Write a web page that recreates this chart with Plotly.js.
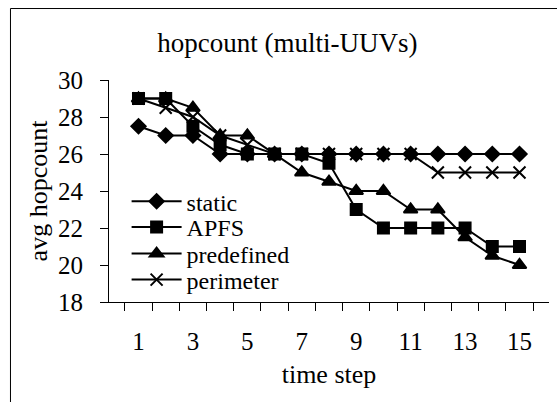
<!DOCTYPE html>
<html>
<head>
<meta charset="utf-8">
<script src="https://cdn.plot.ly/plotly-3.0.1.min.js"></script>
<style>html,body{margin:0;padding:0;background:#fff;}#chart{width:557px;height:402px;}</style>
</head>
<body>
<div id="chart"></div>
<script>
const timeSteps = ['1','2','3','4','5','6','7','8','9','10','11','12','13','14','15'];
const tickLabels = ['1','','3','','5','','7','','9','','11','','13','','15'];
const staticVals = [27.5,27,27,26,26,26,26,26,26,26,26,26,26,26,26];
const apfsVals = [29,29,27.5,26.5,26,26,26,25.5,23,22,22,22,22,21,21];
const predefinedVals = [29,29,28.5,27,27,26,25,24.5,24,24,23,23,21.5,20.5,20];
const perimeterVals = [29,28.5,28,27,26.5,26,26,26,26,26,26,25,25,25,25];

const FONT = 'Liberation Serif';
function tr(name, y, symbol, size, leg) {
  return {
    x: timeSteps, y: y, name: name, type: 'scatter', mode: 'lines+markers',
    line: {color: '#000', width: 2},
    marker: {symbol: symbol, size: size, color: '#000', line: {color: '#000', width: 2}},
    cliponaxis: false, legend: leg
  };
}
const data = [
  tr('static', staticVals, 'diamond', 11, 'legend'),
  tr('APFS', apfsVals, 'square', 11, 'legend2'),
  tr('predefined', predefinedVals, 'triangle-up', 12, 'legend3'),
  tr('perimeter', perimeterVals, 'x-thin-open', 12, 'legend4')
];
function leg(yc) {
  return {x: 0.04, y: (302 - yc) / 222, xanchor: 'left', yanchor: 'middle', bgcolor: 'rgba(0,0,0,0)',
          font: {size: 24, family: FONT, color: '#000'}, itemwidth: 50, borderwidth: 0};
}
const layout = {
  width: 557, height: 402,
  margin: {l: 109, r: 8, t: 80, b: 100},
  paper_bgcolor: '#fff', plot_bgcolor: '#fff',
  font: {family: FONT, size: 25, color: '#000'},
  title: {text: 'hopcount (multi-UUVs)', x: 0.516, xref: 'container', xanchor: 'center',
          y: 0.894, yref: 'container', yanchor: 'middle', font: {size: 27, family: FONT, color: '#000'}},
  xaxis: {
    type: 'category', tickson: 'boundaries', tickmode: 'array', tickvals: timeSteps, ticktext: tickLabels,
    tickangle: 0,
    ticks: 'outside', ticklen: 8, tickcolor: '#000', showline: true, linecolor: '#000', linewidth: 1,
    showgrid: false, zeroline: false, ticklabelstandoff: 17,
    title: {text: 'time step', standoff: 10, font: {size: 26, family: FONT}},
    tickfont: {size: 25, family: FONT}
  },
  yaxis: {
    range: [18, 30], dtick: 2, tick0: 18, ticks: 'outside', ticklen: 8, tickcolor: '#000',
    showline: true, linecolor: '#000', linewidth: 1, showgrid: false, zeroline: false,
    ticklabelstandoff: 12,
    title: {text: 'avg hopcount', standoff: 2, font: {size: 26, family: FONT}},
    tickfont: {size: 25, family: FONT}
  },
  showlegend: true,
  legend: leg(201.7),
  legend2: leg(227.5),
  legend3: leg(254),
  legend4: leg(280),
  shapes: [{type: 'rect', xref: 'paper', yref: 'paper', x0: -0.2239, x1: 1.2, y0: -0.6, y1: 1.322,
            line: {color: '#000', width: 1}, fillcolor: 'rgba(0,0,0,0)'}]
};
Plotly.newPlot('chart', data, layout, {displayModeBar: false, staticPlot: true});
</script>
</body>
</html>
